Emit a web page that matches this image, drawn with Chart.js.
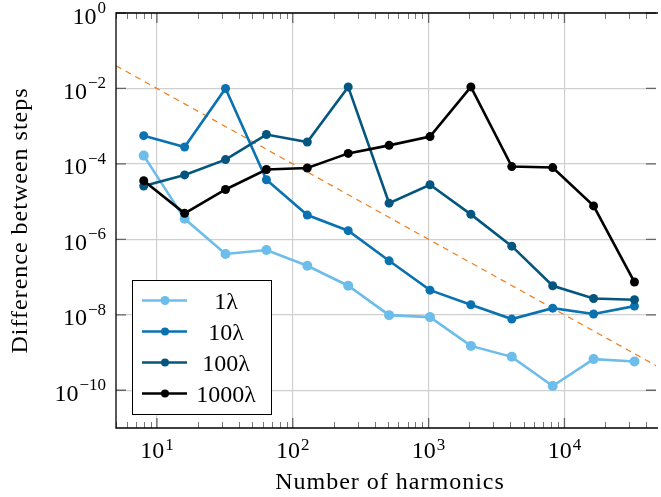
<!DOCTYPE html>
<html>
<head>
<meta charset="utf-8">
<script src="https://cdn.jsdelivr.net/npm/chart.js@4/dist/chart.umd.min.js"></script>
<style>
  html, body { margin: 0; padding: 0; background: #fff; }
  #wrap { width: 661px; height: 497px; position: relative; }
</style>
</head>
<body>
<div id="wrap"><canvas id="chart"></canvas></div>
<script>
// number of harmonics (x) and step differences per case
var harmonics = [8, 16, 32, 64, 128, 256, 512, 1024, 2048, 4096, 8192, 16384, 32768];
var diff1 = [1.66e-4, 3.5e-6, 4.1e-7, 5.2e-7, 2.0e-7, 5.9e-8, 9.8e-9, 8.7e-9, 1.5e-9, 7.7e-10, 1.3e-10, 6.7e-10, 5.8e-10];
var diff10 = [5.6e-4, 2.8e-4, 1.0e-2, 3.8e-5, 4.4e-6, 1.7e-6, 2.7e-7, 4.5e-8, 1.85e-8, 7.7e-9, 1.5e-8, 1.05e-8, 1.7e-8];
var diff100 = [2.6e-5, 5.1e-5, 1.3e-4, 6.0e-4, 3.8e-4, 1.1e-2, 9.1e-6, 2.8e-5, 4.6e-6, 6.6e-7, 5.9e-8, 2.7e-8, 2.5e-8];
var diff1000 = [3.6e-5, 4.9e-6, 2.1e-5, 7.1e-5, 7.8e-5, 1.9e-4, 3.1e-4, 5.3e-4, 1.1e-2, 8.5e-5, 8.0e-5, 7.7e-6, 7.4e-8];
// reference slope line (dashed)
var refX = [5, 47200];
var refY = [4.0e-2, 4.5e-10];

var seriesNames = ['1\u03bb', '10\u03bb', '100\u03bb', '1000\u03bb'];
var seriesColors = ['#6cbde9', '#0a72b0', '#04567f', '#000000'];

var xTicks = [10, 100, 1000, 10000];
var xTickExp = ['1', '2', '3', '4'];
var yTicks = [1e-10, 1e-8, 1e-6, 1e-4, 1e-2, 1];
var yTickExp = ['\u221210', '\u22128', '\u22126', '\u22124', '\u22122', '0'];

var xTitle = 'Number of harmonics';
var yTitle = 'Difference between steps';

var fam = '"Liberation Serif", "DejaVu Serif", serif';

function pts(ys) {
    return harmonics.map(function (h, i) { return { x: h, y: ys[i] }; });
}

function line(label, ys, color, order, r) {
    return {
        label: label,
        data: pts(ys),
        borderColor: color,
        backgroundColor: color,
        borderWidth: 2.6,
        pointRadius: r,
        pointBorderWidth: 0,
        pointHoverRadius: r,
        order: order
    };
}

// draws 10^exp with a raised exponent
function drawPow(ctx, exp, x, y, align, raise) {
    ctx.font = '24px ' + fam;
    var wb = ctx.measureText('10').width;
    ctx.font = '17px ' + fam;
    var we = ctx.measureText(exp).width;
    var x0 = align === 'right' ? x - wb - we - 1 : x - (wb + we + 1) / 2;
    ctx.textAlign = 'left';
    ctx.textBaseline = 'alphabetic';
    ctx.font = '24px ' + fam;
    ctx.fillText('10', x0, y);
    ctx.font = '17px ' + fam;
    ctx.fillText(exp, x0 + wb + 1, y - raise);
}

var decor = {
    id: 'decor',
    afterDatasetsDraw: function (chart) {
        var ctx = chart.ctx;
        var a = chart.chartArea;
        var xs = chart.scales.x, ys = chart.scales.y;
        ctx.save();

        // minor x ticks
        ctx.strokeStyle = '#777';
        ctx.lineWidth = 1;
        for (var d = 0; d <= 4; d++) {
            for (var m = 2; m <= 9; m++) {
                var v = m * Math.pow(10, d);
                if (v < xs.min || v > xs.max) continue;
                var px = Math.round(xs.getPixelForValue(v)) + 0.5;
                ctx.beginPath();
                ctx.moveTo(px, a.bottom); ctx.lineTo(px, a.bottom - 6);
                ctx.moveTo(px, a.top); ctx.lineTo(px, a.top + 6);
                ctx.stroke();
            }
        }
        // major ticks
        ctx.strokeStyle = '#666';
        ctx.lineWidth = 1.3;
        xTicks.forEach(function (v) {
            var px = xs.getPixelForValue(v);
            ctx.beginPath();
            ctx.moveTo(px, a.bottom); ctx.lineTo(px, a.bottom - 10);
            ctx.moveTo(px, a.top); ctx.lineTo(px, a.top + 10);
            ctx.stroke();
        });
        yTicks.forEach(function (v) {
            var py = ys.getPixelForValue(v);
            ctx.beginPath();
            ctx.moveTo(a.left, py); ctx.lineTo(a.left + 10, py);
            ctx.moveTo(a.right, py); ctx.lineTo(a.right - 10, py);
            ctx.stroke();
        });

        // frame (right side falls off the picture)
        ctx.strokeStyle = '#000';
        ctx.lineWidth = 1.3;
        ctx.beginPath();
        ctx.moveTo(a.right + 2, a.top);
        ctx.lineTo(a.left, a.top);
        ctx.lineTo(a.left, a.bottom);
        ctx.lineTo(a.right + 2, a.bottom);
        ctx.stroke();

        // tick labels
        ctx.fillStyle = '#000';
        xTicks.forEach(function (v, i) {
            drawPow(ctx, xTickExp[i], xs.getPixelForValue(v), a.bottom + 30, 'center', 8);
        });
        yTicks.forEach(function (v, i) {
            drawPow(ctx, yTickExp[i], a.left - 10, ys.getPixelForValue(v) + 10.5, 'right', 10.5);
        });

        // axis titles
        ctx.font = '24px ' + fam;
        ctx.letterSpacing = '1px';
        ctx.textAlign = 'center';
        ctx.textBaseline = 'alphabetic';
        ctx.fillText(xTitle, 390, 489);
        ctx.save();
        ctx.translate(27, (a.top + a.bottom) / 2);
        ctx.rotate(-Math.PI / 2);
        ctx.fillText(yTitle, 0, 0);
        ctx.restore();
        ctx.letterSpacing = '0px';

        // legend box
        var bx = 132.5, by = 280.5, bw = 139, bh = 134;
        ctx.fillStyle = '#fff';
        ctx.fillRect(bx, by, bw, bh);
        ctx.strokeStyle = '#000';
        ctx.lineWidth = 1;
        ctx.strokeRect(bx, by, bw, bh);
        seriesNames.forEach(function (name, i) {
            var ry = 300.5 + i * 31;
            ctx.strokeStyle = seriesColors[i];
            ctx.fillStyle = seriesColors[i];
            ctx.lineWidth = 2.6;
            ctx.beginPath();
            ctx.moveTo(142, ry); ctx.lineTo(187, ry);
            ctx.stroke();
            ctx.beginPath();
            ctx.arc(165, ry, i === 0 ? 4.5 : 4, 0, Math.PI * 2);
            ctx.fill();
            ctx.fillStyle = '#000';
            ctx.font = '24px ' + fam;
            ctx.textAlign = 'center';
            ctx.textBaseline = 'alphabetic';
            ctx.fillText(name, 226, ry + 8);
        });
        ctx.restore();
    }
};

var ctx = document.getElementById('chart').getContext('2d');
var chart = new Chart(ctx, {
    type: 'line',
    data: {
        datasets: [
            line(seriesNames[0], diff1, seriesColors[0], 4, 5),
            line(seriesNames[1], diff10, seriesColors[1], 3, 4.5),
            line(seriesNames[2], diff100, seriesColors[2], 2, 4.5),
            line(seriesNames[3], diff1000, seriesColors[3], 1, 4.5),
            {
                label: 'ref',
                data: refX.map(function (x, i) { return { x: x, y: refY[i] }; }),
                borderColor: '#ef7d1a',
                borderWidth: 1.2,
                borderDash: [6, 5],
                pointRadius: 0,
                order: 5
            }
        ]
    },
    options: {
        responsive: true,
        maintainAspectRatio: false,
        animation: false,
        events: [],
        layout: { padding: { left: 116, top: 13, right: 1, bottom: 69 } },
        plugins: { legend: { display: false }, tooltip: { enabled: false } },
        scales: {
            x: {
                type: 'logarithmic',
                min: 5,
                max: 47200,
                afterBuildTicks: function (s) { s.ticks = xTicks.map(function (v) { return { value: v }; }); },
                ticks: { display: false },
                grid: { color: '#d0d0d0', lineWidth: 1.2, drawTicks: false },
                border: { display: false }
            },
            y: {
                type: 'logarithmic',
                min: 1e-11,
                max: 1,
                afterBuildTicks: function (s) { s.ticks = yTicks.map(function (v) { return { value: v }; }); },
                ticks: { display: false },
                grid: { color: '#d0d0d0', lineWidth: 1.2, drawTicks: false },
                border: { display: false }
            }
        }
    },
    plugins: [decor]
});
</script>
</body>
</html>
